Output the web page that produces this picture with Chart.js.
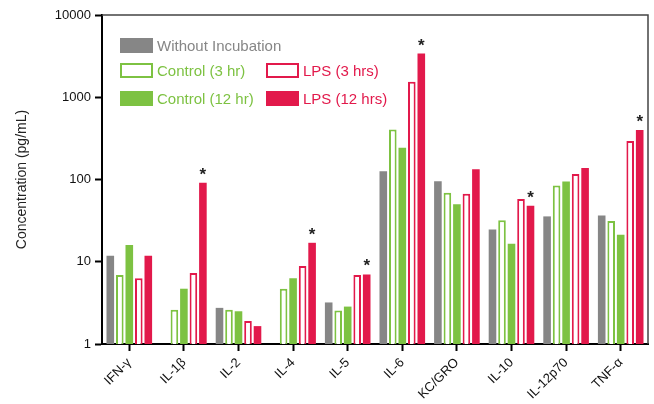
<!DOCTYPE html>
<html>
<head>
<meta charset="utf-8">
<script src="https://cdn.jsdelivr.net/npm/chart.js@4"></script>
<style>
html,body{margin:0;padding:0;background:#fff;}
#wrap{width:654px;height:404px;position:relative;}
</style>
</head>
<body>
<div id="wrap"><canvas id="c" width="654" height="404"></canvas></div>
<script>
const categories = ['IFN-γ','IL-1β','IL-2','IL-4','IL-5','IL-6','KC/GRO','IL-10','IL-12p70','TNF-α'];
const withoutIncubation = [11.8, null, 2.75, null, 3.2, 126, 95, 24.6, 35.6, 36.4];
const control3hr  = [6.9, 2.6, 2.6, 4.7, 2.55, 406, 69, 32, 84.5, 31.3];
const control12hr = [16, 4.7, 2.5, 6.3, 2.85, 243, 50, 16.6, 94.6, 21.3];
const lps3hrs     = [6.3, 7.3, 1.9, 8.9, 6.9, 1540, 67, 58, 117, 293];
const lps12hrs    = [11.8, 91, 1.65, 17, 7.0, 3400, 133, 48, 138, 400];
const significant = [false, true, false, true, true, true, false, true, false, true];
const yTicks = [1, 10, 100, 1000, 10000];

const GRAY = '#868686', GREEN = '#7DC242', RED = '#E2194B';
const FONT = '"Liberation Sans", Arial, Helvetica, sans-serif';

const legendPlugin = {
  id: 'customLegend',
  afterDraw(chart) {
    const ctx = chart.ctx;
    const ds = chart.data.datasets;
    const slots = [[120, 38], [120, 63], [120, 91], [266, 63], [266, 91]];
    ctx.save();
    ctx.font = '15px ' + FONT;
    ctx.textBaseline = 'middle';
    ctx.textAlign = 'left';
    ds.forEach((d, i) => {
      const [x, y] = slots[i];
      const w = 33, h = 15;
      const col = d.legendColor;
      if (d.backgroundColor === '#ffffff') {
        ctx.fillStyle = '#fff';
        ctx.fillRect(x, y, w, h);
        ctx.strokeStyle = col;
        ctx.lineWidth = 2;
        ctx.strokeRect(x + 1, y + 1, w - 2, h - 2);
      } else {
        ctx.fillStyle = col;
        ctx.fillRect(x, y, w, h);
      }
      ctx.fillStyle = col;
      ctx.fillText(d.label, x + 37, y + h / 2 + 1);
    });
    ctx.restore();
  }
};

const framePlugin = {
  id: 'frame',
  afterDraw(chart) {
    const {ctx, chartArea: a} = chart;
    ctx.save();
    ctx.strokeStyle = '#444';
    ctx.lineWidth = 1.5;
    ctx.beginPath();
    ctx.moveTo(a.left, a.top);
    ctx.lineTo(a.right, a.top);
    ctx.lineTo(a.right, a.bottom);
    ctx.stroke();
    ctx.restore();
  }
};

const starPlugin = {
  id: 'stars',
  afterDatasetsDraw(chart) {
    const ctx = chart.ctx;
    const meta = chart.getDatasetMeta(4);
    ctx.save();
    ctx.fillStyle = '#222';
    ctx.font = 'bold 17px ' + FONT;
    ctx.textAlign = 'center';
    ctx.textBaseline = 'alphabetic';
    meta.data.forEach((bar, i) => {
      if (significant[i]) ctx.fillText('*', bar.x, bar.y - 3);
    });
    ctx.restore();
  }
};

new Chart(document.getElementById('c'), {
  type: 'bar',
  data: {
    labels: categories,
    datasets: [
      {label: 'Without Incubation', data: withoutIncubation, backgroundColor: GRAY, borderWidth: 0, legendColor: GRAY},
      {label: 'Control (3 hr)', data: control3hr, backgroundColor: '#ffffff', borderColor: GREEN, borderWidth: 2, legendColor: GREEN},
      {label: 'Control (12 hr)', data: control12hr, backgroundColor: GREEN, borderWidth: 0, legendColor: GREEN},
      {label: 'LPS (3 hrs)', data: lps3hrs, backgroundColor: '#ffffff', borderColor: RED, borderWidth: 2, legendColor: RED},
      {label: 'LPS (12 hrs)', data: lps12hrs, backgroundColor: RED, borderWidth: 0, legendColor: RED}
    ]
  },
  options: {
    responsive: false,
    animation: false,
    devicePixelRatio: 1,
    layout: {padding: {top: 15, right: 6, left: 0, bottom: 0}},
    datasets: {bar: {categoryPercentage: 0.87, barPercentage: 0.8, borderSkipped: 'bottom'}},
    plugins: {legend: {display: false}, tooltip: {enabled: false}},
    scales: {
      x: {
        grid: {display: true, drawOnChartArea: false, drawTicks: true, tickLength: 7, tickWidth: 2, tickColor: '#000', offset: false},
        border: {display: true, color: '#000', width: 2},
        ticks: {color: '#111', font: {family: FONT, size: 13}, autoSkip: false, minRotation: 45, maxRotation: 45, padding: 4},
        afterFit(scale) { scale.height = 60; }
      },
      y: {
        type: 'logarithmic',
        min: 1,
        max: 10000,
        afterBuildTicks(scale) { scale.ticks = yTicks.map(v => ({value: v})); },
        grid: {display: true, drawOnChartArea: false, drawTicks: true, tickLength: 7, tickWidth: 2, tickColor: '#000'},
        border: {display: true, color: '#000', width: 2},
        ticks: {color: '#111', font: {family: FONT, size: 13}, padding: 4, callback: v => String(v)},
        title: {display: true, text: 'Concentration (pg/mL)', color: '#222', font: {family: FONT, size: 14}, padding: {top: 14, bottom: 0}},
        afterFit(scale) { scale.width = 102; }
      }
    }
  },
  plugins: [legendPlugin, framePlugin, starPlugin]
});
</script>
</body>
</html>
